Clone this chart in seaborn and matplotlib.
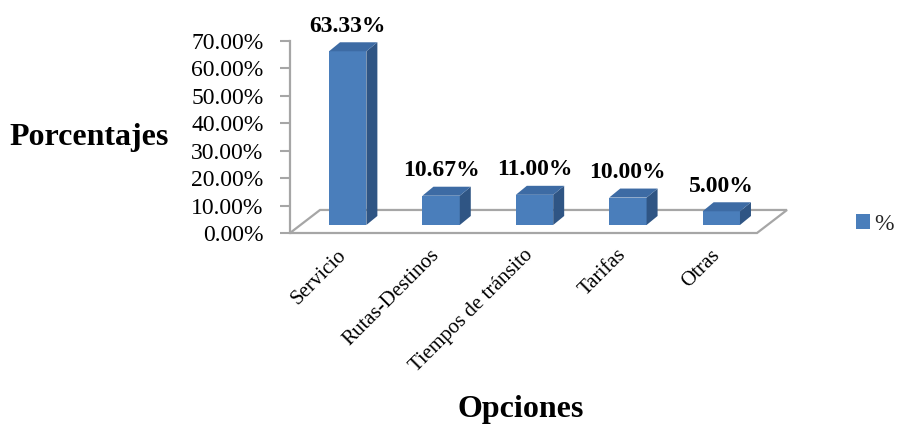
import numpy as np
import pandas as pd
import seaborn as sns
import matplotlib
matplotlib.use("Agg")
import matplotlib.pyplot as plt
from matplotlib.patches import Polygon, Patch

categories = ["Servicio", "Rutas-Destinos", "Tiempos de tránsito", "Tarifas", "Otras"]
values = [63.33, 10.67, 11.00, 10.00, 5.00]
value_labels = ["63.33%", "10.67%", "11.00%", "10.00%", "5.00%"]
yticks = [0, 10, 20, 30, 40, 50, 60, 70]
ytick_labels = ["0.00%", "10.00%", "20.00%", "30.00%", "40.00%", "50.00%", "60.00%", "70.00%"]
series_name = "%"

sns.set_theme(style="white")
plt.rcParams["font.family"] = ["Liberation Serif", "DejaVu Serif"]

FRONT = "#4A7EBB"
SIDE = "#2F5584"
TOP = "#3D6BA4"
GRID = "#A6A6A6"

fig = plt.figure(figsize=(9.03, 4.26), dpi=100)
ax = fig.add_axes([290 / 903, (426 - 233) / 426, 467 / 903, 192 / 426])

# pixel-ish scales: 93.4 px per category, 2.74 px per percent
px_x = 1 / 93.4
px_y = 1 / 2.74
bar_off = (11 * px_x, 8 * px_y)     # bars sit mid-depth in the floor
bar_dep = (11 * px_x, 9 * px_y)     # bar depth
floor_dep = (30 * px_x, 23 * px_y)  # floor depth

ax.set_xlim(-0.5, 4.5)
ax.set_ylim(0, 70)

# floor
fl = Polygon([(-0.5, 0), (4.5, 0), (4.5 + floor_dep[0], floor_dep[1]),
              (-0.5 + floor_dep[0], floor_dep[1])], closed=True,
             facecolor="white", edgecolor=GRID, lw=1.6, zorder=1, clip_on=False)
ax.add_patch(fl)

df = pd.DataFrame({"cat": categories, "val": values})
sns.barplot(data=df, x="cat", y="val", color=FRONT, width=0.4, saturation=1,
            ax=ax, zorder=3, edgecolor="none")

for p in ax.patches:
    if isinstance(p, Polygon):
        continue
    x0 = p.get_x() + bar_off[0]
    w = p.get_width()
    h = p.get_height()
    y0 = bar_off[1]
    p.set_x(x0)
    p.set_y(y0)
    p.set_clip_on(False)
    x1 = x0 + w
    side = Polygon([(x1, y0), (x1 + bar_dep[0], y0 + bar_dep[1]),
                    (x1 + bar_dep[0], y0 + h + bar_dep[1]), (x1, y0 + h)],
                   closed=True, facecolor=SIDE, edgecolor="none", zorder=3, clip_on=False)
    top = Polygon([(x0, y0 + h), (x1, y0 + h), (x1 + bar_dep[0], y0 + h + bar_dep[1]),
                   (x0 + bar_dep[0], y0 + h + bar_dep[1])],
                  closed=True, facecolor=TOP, edgecolor="none", zorder=3, clip_on=False)
    ax.add_patch(side)
    ax.add_patch(top)

for i, (v, lab) in enumerate(zip(values, value_labels)):
    ax.annotate(lab, (i + bar_off[0], v + bar_off[1] + bar_dep[1]),
                xytext=(0, 4), textcoords="offset points", ha="center", va="bottom",
                fontsize=17, fontweight="bold", color="black", annotation_clip=False)

for s in ["top", "right", "bottom"]:
    ax.spines[s].set_visible(False)
ax.spines["left"].set_color(GRID)
ax.spines["left"].set_linewidth(1.6)

ax.set_yticks(yticks)
ax.set_yticklabels(ytick_labels, fontsize=17)
ax.tick_params(axis="y", left=True, direction="out", length=7, width=1.5,
               color=GRID, pad=12, labelcolor="black")
ax.set_xticks(range(len(categories)))
ax.set_xticklabels(categories, rotation=45, ha="right", va="top",
                   rotation_mode="anchor", fontsize=15)
ax.tick_params(axis="x", bottom=False, length=0, pad=9, labelcolor="black")

ax.set_ylabel("Porcentajes", rotation=0, fontsize=23, fontweight="bold",
              ha="left", va="center", color="black")
ax.yaxis.set_label_coords(-0.6, 0.495)
ax.set_xlabel("Opciones", fontsize=23, fontweight="bold", va="center", color="black")
ax.xaxis.set_label_coords(0.495, -0.92)

handles = [Patch(facecolor=FRONT, edgecolor="none")]
fig.legend(handles, [series_name], loc="center left",
           bbox_to_anchor=(851 / 903, (426 - 224) / 426), frameon=False,
           handlelength=0.6, handleheight=0.6, handletextpad=0.2,
           borderpad=0.2, borderaxespad=0.0, fontsize=17)

fig.savefig("out.png", dpi=100, facecolor="white")
